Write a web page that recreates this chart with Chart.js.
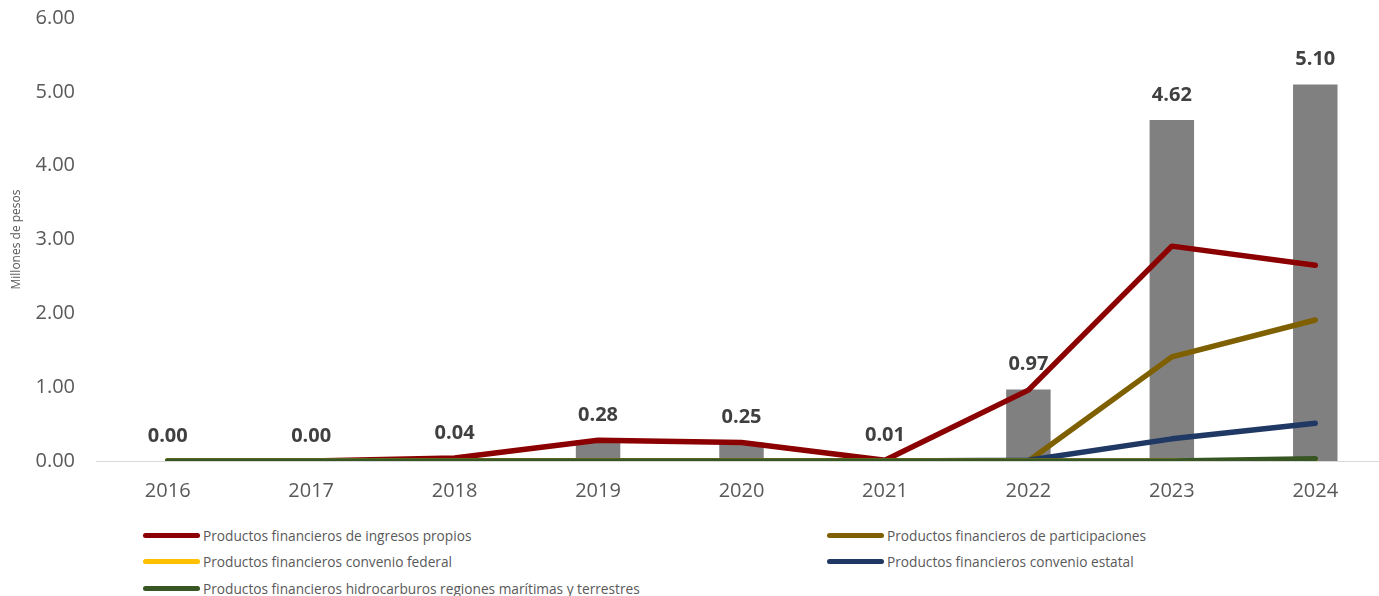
<!DOCTYPE html>
<html>
<head>
<meta charset="utf-8">
<script src="https://cdn.jsdelivr.net/npm/chart.js@4"></script>
<style>
  html, body { margin: 0; padding: 0; background: #fff; overflow: hidden; }
  #wrap { position: relative; width: 1379px; height: 596px; overflow: hidden; }
  #chart { position: absolute; left: 0; top: 0; }
  .leg { position: absolute; font-family: "Open Sans", sans-serif; font-size: 13.7px; color: #595959;
         display: flex; align-items: center; white-space: nowrap; height: 20px; }
  .leg i { display: inline-block; width: 57px; height: 5px; border-radius: 3px; margin-right: 3px; }
</style>
</head>
<body>
<div id="wrap">
  <canvas id="chart" width="1387" height="510"></canvas>
  <div id="legend"></div>
</div>
<script>
  const years = ['2016','2017','2018','2019','2020','2021','2022','2023','2024'];
  const total = [0.00, 0.00, 0.04, 0.28, 0.25, 0.01, 0.97, 4.62, 5.10];
  const ingresosPropios = [0, 0, 0.04, 0.28, 0.25, 0.01, 0.96, 2.91, 2.65];
  const participaciones = [0, 0, 0, 0, 0, 0, 0, 1.41, 1.91];
  const convenioFederal = [0, 0, 0, 0, 0, 0, 0, 0, 0.01];
  const convenioEstatal = [0, 0, 0, 0, 0, 0, 0.01, 0.30, 0.51];
  const hidrocarburos = [0, 0, 0, 0, 0, 0, 0, 0, 0.03];
  const yTicks = [0, 1, 2, 3, 4, 5, 6];

  const lines = [
    { label: 'Productos financieros de ingresos propios', data: ingresosPropios, color: '#8B0000', order: 4 },
    { label: 'Productos financieros de participaciones', data: participaciones, color: '#7F6000', order: 3 },
    { label: 'Productos financieros convenio federal', data: convenioFederal, color: '#FFC000', order: 1 },
    { label: 'Productos financieros convenio estatal', data: convenioEstatal, color: '#203864', order: 2 },
    { label: 'Productos financieros hidrocarburos regiones marítimas y terrestres', data: hidrocarburos, color: '#375623', order: 0 },
  ];

  // legend, two columns
  const legend = document.getElementById('legend');
  const cols = [143, 827], rows = [535, 561, 588];
  lines.forEach((l, i) => {
    const d = document.createElement('div');
    d.className = 'leg';
    d.style.left = cols[i % 2] + 'px';
    d.style.top = (rows[Math.floor(i / 2)] - 10) + 'px';
    d.innerHTML = `<i style="background:${l.color}"></i>${l.label}`;
    legend.appendChild(d);
  });

  const barLabels = {
    id: 'barLabels',
    afterDatasetsDraw(chart) {
      const ctx = chart.ctx;
      const meta = chart.getDatasetMeta(0);
      ctx.save();
      ctx.font = 'bold 20px "Open Sans"';
      ctx.fillStyle = '#404040';
      ctx.textAlign = 'center';
      ctx.textBaseline = 'middle';
      meta.data.forEach((bar, i) => {
        ctx.fillText(total[i].toFixed(2), bar.x, bar.y - 25);
      });
      ctx.restore();
    }
  };

  new Chart(document.getElementById('chart'), {
    type: 'bar',
    data: {
      labels: years,
      datasets: [
        { type: 'bar', data: total, backgroundColor: '#808080', order: 10,
          barPercentage: 0.31, categoryPercentage: 1 },
        ...lines.map(l => ({
          type: 'line', label: l.label, data: l.data, borderColor: l.color,
          backgroundColor: l.color, borderWidth: 5.5, pointRadius: 0, tension: 0,
          borderCapStyle: 'round', borderJoinStyle: 'round', order: l.order
        }))
      ]
    },
    options: {
      responsive: false,
      animation: false,
      layout: { padding: { top: 18, right: 0, left: 0, bottom: 0 } },
      plugins: { legend: { display: false }, tooltip: { enabled: false } },
      scales: {
        x: {
          grid: { display: false, drawTicks: false },
          border: { color: '#d9d9d9', width: 1 },
          ticks: { color: '#595959', font: { family: 'Open Sans', size: 20 }, padding: 18 },
          afterFit: s => { s.height = 49; }
        },
        y: {
          min: 0, max: 6,
          afterBuildTicks: s => { s.ticks = yTicks.map(v => ({ value: v })); },
          grid: { display: false, drawTicks: false },
          border: { display: false },
          ticks: { color: '#595959', font: { family: 'Open Sans', size: 20 }, padding: 21,
                   callback: v => v.toFixed(2) },
          title: { display: true, text: 'Millones de pesos', color: '#595959',
                   font: { family: 'Open Sans', size: 12 }, padding: { top: 9, bottom: 0 } },
          afterFit: s => { s.width = 96; s.paddingTop = 0; s.paddingBottom = 0; }
        }
      }
    },
    plugins: [barLabels]
  });
</script>
</body>
</html>
